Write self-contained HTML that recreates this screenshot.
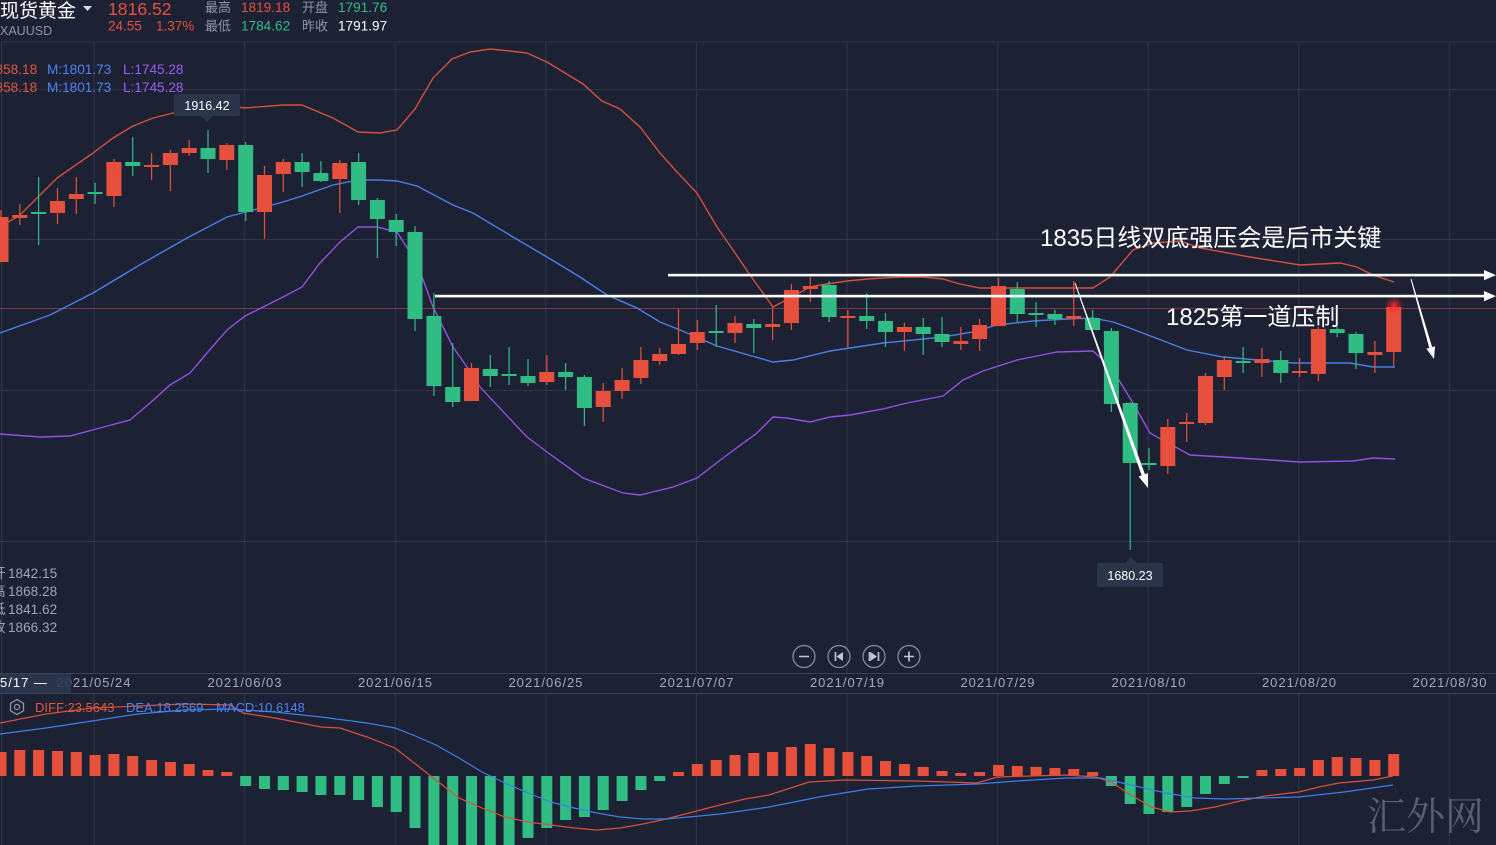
<!DOCTYPE html>
<html><head><meta charset="utf-8"><style>
html,body{margin:0;padding:0;background:#1c2134;}
body{width:1496px;height:845px;overflow:hidden;font-family:"Liberation Sans","Noto Sans CJK SC",sans-serif;}
svg{display:block}
</style></head><body>
<svg width="1496" height="845" viewBox="0 0 1496 845" xmlns="http://www.w3.org/2000/svg" font-family="Liberation Sans, Noto Sans CJK SC, sans-serif">
<defs>
<clipPath id="mc"><rect x="0" y="42" width="1496" height="631"/></clipPath>
<clipPath id="mp"><rect x="0" y="694" width="1496" height="151"/></clipPath>
<filter id="glow" x="-2" y="-2" width="5" height="5"><feGaussianBlur stdDeviation="3"/></filter>
</defs>
<rect width="1496" height="845" fill="#1c2134"/>
<!-- grid -->
<g stroke="#2f364a" stroke-width="1">
<line x1="0" y1="42" x2="1496" y2="42"/>
<line x1="0" y1="89.5" x2="1496" y2="89.5"/>
<line x1="0" y1="239.5" x2="1496" y2="239.5"/>
<line x1="0" y1="390.5" x2="1496" y2="390.5"/>
<line x1="0" y1="541.5" x2="1496" y2="541.5"/>
<path d="M94 42V673M244.6 42V673M395.2 42V673M545.8 42V673M696.4 42V673M847 42V673M997.6 42V673M1148.2 42V673M1298.8 42V673M1449.4 42V673"/>
<path d="M94 694V845M244.6 694V845M395.2 694V845M545.8 694V845M696.4 694V845M847 694V845M997.6 694V845M1148.2 694V845M1298.8 694V845M1449.4 694V845"/>
<line x1="1.5" y1="42" x2="1.5" y2="845"/>
</g>
<g stroke="#3a4258" stroke-width="1">
<line x1="0" y1="673.5" x2="1496" y2="673.5"/>
<line x1="0" y1="693.5" x2="1496" y2="693.5"/>
</g>
<!-- current price line -->
<line x1="0" y1="308.5" x2="1496" y2="308.5" stroke="#7d3a44" stroke-width="1"/>

<g clip-path="url(#mc)">
<!-- bollinger -->
<polyline fill="none" stroke="#d5503a" stroke-width="1.4" points="0,227 20,215 57,178 93,153 113,138 133,126 153,118 177,112 207,103 245,108 283,105 302,105 333,118 358,132 380,133 397,130 415,109 433,78 452,59 470,52 490,49 510,51 527,53 547,62 565,73 583,84 602,101 620,109 640,127 660,153 677,172 697,193 717,227 733,250 750,275 773,307 790,298 810,287 820,285 847,281 867,279 900,277 923,277 943,279 960,284 980,288 1013,288 1047,288 1093,288 1110,277 1133,250 1153,243 1180,241 1200,248 1250,257 1300,265 1340,263 1357,267 1373,275 1394,282"/>
<polyline fill="none" stroke="#4a7fe6" stroke-width="1.4" points="0,333 50,315 93,293 143,263 187,238 227,217 246,212 283,202 302,196 333,185 358,180 380,180 397,181 417,186 453,205 473,213 513,237 547,257 580,277 607,295 637,308 660,322 680,330 717,346 773,362 793,360 830,351 883,343 943,337 973,332 997,325 1033,321 1067,319 1093,318 1113,322 1127,327 1140,332 1187,350 1223,357 1293,363 1350,363 1373,367 1395,367"/>
<polyline fill="none" stroke="#9350e2" stroke-width="1.4" points="0,434 40,437 70,436 100,428 130,420 150,403 170,385 190,373 207,353 227,330 245,316 283,297 302,287 320,263 340,242 358,227 377,227 397,232 417,263 433,307 453,347 467,367 480,387 527,437 547,452 583,478 623,493 640,495 673,487 697,478 723,458 757,433 773,417 787,418 810,422 830,417 850,415 883,409 907,403 943,396 963,380 983,371 1017,360 1057,352 1093,351 1103,360 1117,377 1133,403 1150,433 1190,455 1240,458 1300,462 1353,461 1373,458 1395,459"/>

<!-- wicks -->
<path fill="none" stroke="#e8503e" stroke-width="1.2" d="M1 210V262M19.8 204V225M57.5 188V224M76.3 177V214M113.9 159V207M151.6 153V180M170.4 150V191M189.2 140V156M226.8 143V170M264.5 166V239M283.3 159V192M339.8 160V213M471.5 363V401M546.8 355V385M603.2 383V422M622.1 368V399M640.9 347V384M659.7 348V365M678.5 309V355M697.3 320V350M735 316V343M772.6 307V340M791.4 284V330M810.3 277V302M847.9 310V347M904.4 323V351M960.8 327V350M979.6 319V351M998.5 278V326M1073.7 281V326M1167.8 419V474M1186.7 413V442M1205.5 373V425M1224.3 356V390M1261.9 348V377M1299.6 358V377M1318.4 327V381M1374.9 341V373M1393.7 303V366"/>
<path fill="none" stroke="#2fbd84" stroke-width="1.2" d="M38.6 177V245M95.1 183V204M132.7 137V176M208 130V173M245.7 142V221M302.1 153V187M320.9 161V182M358.6 153V205M377.4 198V258M396.2 214V246M415 226V331M433.9 293V396M452.7 343V407M490.3 355V387M509.1 347V385M528 359V386M565.6 363V390M584.4 375V426M716.2 305V347M753.8 319V353M829.1 281V322M866.7 293V329M885.5 313V347M923.2 318V355M942 317V347M1017.3 282V322M1036.1 302V327M1054.9 310V325M1092.6 310V330M1111.4 328V412M1130.2 402V550M1149 448V470M1243.1 347V373M1280.8 351V383M1337.2 327V337M1356 332V369"/>
<!-- red bodies -->
<g fill="#e8503e">
<rect x="-6.5" y="217" width="15" height="45"/>
<rect x="12.3" y="215" width="15" height="3"/>
<rect x="50" y="201" width="15" height="12"/>
<rect x="68.8" y="194" width="15" height="5"/>
<rect x="106.4" y="162" width="15" height="34"/>
<rect x="144.1" y="165" width="15" height="2"/>
<rect x="162.9" y="153" width="15" height="12"/>
<rect x="181.7" y="148" width="15" height="5"/>
<rect x="219.3" y="145" width="15" height="15"/>
<rect x="257" y="175" width="15" height="37"/>
<rect x="275.8" y="162" width="15" height="12"/>
<rect x="332.3" y="163" width="15" height="16"/>
<rect x="464" y="368" width="15" height="33"/>
<rect x="539.3" y="372" width="15" height="10"/>
<rect x="595.7" y="391" width="15" height="16"/>
<rect x="614.6" y="380" width="15" height="11"/>
<rect x="633.4" y="360" width="15" height="18"/>
<rect x="652.2" y="354" width="15" height="7"/>
<rect x="671" y="344" width="15" height="10"/>
<rect x="689.8" y="332" width="15" height="11"/>
<rect x="727.5" y="323" width="15" height="10"/>
<rect x="765.1" y="324" width="15" height="3"/>
<rect x="783.9" y="290" width="15" height="33"/>
<rect x="802.8" y="286" width="15" height="3"/>
<rect x="840.4" y="316" width="15" height="2"/>
<rect x="896.9" y="327" width="15" height="5"/>
<rect x="953.3" y="341" width="15" height="3"/>
<rect x="972.1" y="325" width="15" height="14"/>
<rect x="991" y="286" width="15" height="40"/>
<rect x="1066.2" y="316" width="15" height="3"/>
<rect x="1160.3" y="427" width="15" height="39"/>
<rect x="1179.2" y="422" width="15" height="2"/>
<rect x="1198" y="376" width="15" height="47"/>
<rect x="1216.8" y="360" width="15" height="17"/>
<rect x="1254.4" y="359" width="15" height="4"/>
<rect x="1292.1" y="371" width="15" height="2"/>
<rect x="1310.9" y="329" width="15" height="45"/>
<rect x="1367.4" y="352" width="15" height="3"/>
<rect x="1386.2" y="307" width="15" height="45"/>
</g>
<circle cx="1394" cy="306" r="6" fill="#ff2a2a" opacity="0.8" filter="url(#glow)"/>
<!-- green bodies -->
<g fill="#2fbd84">
<rect x="31.1" y="212" width="15" height="2"/>
<rect x="87.6" y="192" width="15" height="2"/>
<rect x="125.2" y="162" width="15" height="4"/>
<rect x="200.5" y="148" width="15" height="11"/>
<rect x="238.2" y="145" width="15" height="67"/>
<rect x="294.6" y="162" width="15" height="10"/>
<rect x="313.4" y="173" width="15" height="8"/>
<rect x="351.1" y="162" width="15" height="38"/>
<rect x="369.9" y="200" width="15" height="19"/>
<rect x="388.7" y="220" width="15" height="12"/>
<rect x="407.5" y="232" width="15" height="87"/>
<rect x="426.4" y="316" width="15" height="70"/>
<rect x="445.2" y="387" width="15" height="15"/>
<rect x="482.8" y="369" width="15" height="7"/>
<rect x="501.6" y="374" width="15" height="2"/>
<rect x="520.5" y="376" width="15" height="7"/>
<rect x="558.1" y="372" width="15" height="5"/>
<rect x="576.9" y="377" width="15" height="31"/>
<rect x="708.7" y="331" width="15" height="2"/>
<rect x="746.3" y="324" width="15" height="4"/>
<rect x="821.6" y="285" width="15" height="32"/>
<rect x="859.2" y="316" width="15" height="5"/>
<rect x="878" y="321" width="15" height="11"/>
<rect x="915.7" y="327" width="15" height="7"/>
<rect x="934.5" y="334" width="15" height="8"/>
<rect x="1009.8" y="289" width="15" height="25"/>
<rect x="1028.6" y="313" width="15" height="2"/>
<rect x="1047.4" y="314" width="15" height="5"/>
<rect x="1085.1" y="318" width="15" height="12"/>
<rect x="1103.9" y="331" width="15" height="73"/>
<rect x="1122.7" y="403" width="15" height="60"/>
<rect x="1141.5" y="463" width="15" height="2"/>
<rect x="1235.6" y="361" width="15" height="2"/>
<rect x="1273.3" y="360" width="15" height="13"/>
<rect x="1329.7" y="329" width="15" height="4"/>
<rect x="1348.5" y="334" width="15" height="19"/>
</g>

<!-- annotations -->
<g fill="#ffffff">
<rect x="668" y="273.8" width="818" height="2.6"/>
<polygon points="1484,270 1496,275.1 1484,280.2"/>
<rect x="435" y="294.8" width="1051" height="2.6"/>
<polygon points="1484,291 1496,296.1 1484,301.2"/>
<polygon points="1074.53,283.17 1075.47,282.83 1144.95,474.21 1141.65,475.39"/>
<polygon points="1138.6,476.5 1148,473.1 1148,488"/>
<polygon points="1410.52,279.14 1411.48,278.86 1432.14,347.1 1429.26,347.9"/>
<polygon points="1426.4,348.7 1435,346.3 1434,359"/>
</g>
<text x="1040" y="246" fill="#ffffff" font-size="24">1835日线双底强压会是后市关键</text>
<text x="1166" y="325" fill="#ffffff" font-size="24">1825第一道压制</text>

<!-- price tags -->
<rect x="174" y="94" width="66" height="22" rx="2" fill="#2b3549"/>
<polygon points="201,116 213,116 207,122" fill="#2b3549"/>
<text x="207" y="110" fill="#ffffff" font-size="12.5" text-anchor="middle">1916.42</text>
<rect x="1097" y="563" width="66" height="24" rx="2" fill="#2b3549"/>
<polygon points="1125,563 1137,563 1131,557" fill="#2b3549"/>
<text x="1130" y="580" fill="#ffffff" font-size="12.5" text-anchor="middle">1680.23</text>
</g>

<!-- header -->
<text x="0" y="17" fill="#ffffff" font-size="19">现货黄金</text>
<polygon points="83,6 92,6 87.5,11" fill="#d8dce4"/>
<text x="0" y="35" fill="#8e96a6" font-size="12.5">XAUUSD</text>
<text x="108" y="15" fill="#e8503e" font-size="17.6">1816.52</text>
<text x="108" y="30.5" fill="#e8503e" font-size="13.5">24.55</text>
<text x="156" y="30.5" fill="#e8503e" font-size="13.5">1.37%</text>
<g font-size="13" fill="#8e96a6">
<text x="205" y="12">最高</text><text x="302" y="12">开盘</text>
<text x="205" y="30.5">最低</text><text x="302" y="30.5">昨收</text>
</g>
<g font-size="13.6">
<text x="241" y="12" fill="#e8503e">1819.18</text>
<text x="338" y="12" fill="#2fbd84">1791.76</text>
<text x="241" y="30.5" fill="#2fbd84">1784.62</text>
<text x="338" y="30.5" fill="#ffffff">1791.97</text>
</g>
<!-- band labels -->
<g font-size="13.6">
<text x="-12" y="74" fill="#e0553f">1858.18</text>
<text x="47" y="74" fill="#4d82f0">M:1801.73</text>
<text x="123" y="74" fill="#9d5cf0">L:1745.28</text>
<text x="-12" y="92" fill="#e0553f">1858.18</text>
<text x="47" y="92" fill="#4d82f0">M:1801.73</text>
<text x="123" y="92" fill="#9d5cf0">L:1745.28</text>
</g>
<!-- left OHLC -->
<g font-size="13.6" fill="#9ea6b5">
<text x="-8" y="578">开</text><text x="8" y="578">1842.15</text>
<text x="-8" y="596">高</text><text x="8" y="596">1868.28</text>
<text x="-8" y="614">低</text><text x="8" y="614">1841.62</text>
<text x="-8" y="632">收</text><text x="8" y="632">1866.32</text>
</g>

<!-- nav buttons -->
<g fill="none" stroke="#8a93a5" stroke-width="1.2">
<circle cx="804" cy="656.5" r="11"/>
<circle cx="839" cy="656.5" r="11"/>
<circle cx="874" cy="656.5" r="11"/>
<circle cx="909" cy="656.5" r="11"/>
<path d="M799 656.5H809M904 656.5H914M909 651.5V661.5M835.5 652V661M869.5 652V661M878.5 652V661" stroke="#c2c8d4" stroke-width="1.6"/>
</g>
<polygon points="843,652 843,661 836.5,656.5" fill="#c2c8d4"/>
<polygon points="870.5,652 870.5,661 877,656.5" fill="#c2c8d4"/>

<!-- date axis -->
<g font-size="13" fill="#a3abba" text-anchor="middle" letter-spacing="1">
<text x="94" y="687">2021/05/24</text>
<text x="245" y="687">2021/06/03</text>
<text x="395.5" y="687">2021/06/15</text>
<text x="546" y="687">2021/06/25</text>
<text x="697" y="687">2021/07/07</text>
<text x="847.5" y="687">2021/07/19</text>
<text x="998" y="687">2021/07/29</text>
<text x="1149" y="687">2021/08/10</text>
<text x="1299.5" y="687">2021/08/20</text>
<text x="1450" y="687">2021/08/30</text>
</g>
<rect x="0" y="674" width="71" height="19" fill="#2c384e" opacity="0.88"/>
<text x="0" y="687" fill="#ffffff" font-size="13" letter-spacing="1">5/17 —</text>

<!-- MACD -->
<g clip-path="url(#mp)">
<g fill="#e8503e">
<rect x="-4.5" y="752" width="11" height="24"/><rect x="14.3" y="750" width="11" height="26"/><rect x="33.1" y="750" width="11" height="26"/><rect x="52" y="751" width="11" height="25"/><rect x="70.8" y="752" width="11" height="24"/><rect x="89.6" y="755" width="11" height="21"/><rect x="108.4" y="754" width="11" height="22"/><rect x="127.2" y="756" width="11" height="20"/><rect x="146.1" y="760" width="11" height="16"/><rect x="164.9" y="762" width="11" height="14"/><rect x="183.7" y="764" width="11" height="12"/><rect x="202.5" y="770" width="11" height="6"/><rect x="221.3" y="772" width="11" height="4"/>
<rect x="673" y="772" width="11" height="4"/><rect x="691.8" y="764" width="11" height="12"/><rect x="710.7" y="760" width="11" height="16"/><rect x="729.5" y="755" width="11" height="21"/><rect x="748.3" y="753" width="11" height="23"/><rect x="767.1" y="752" width="11" height="24"/><rect x="785.9" y="747" width="11" height="29"/><rect x="804.8" y="744" width="11" height="32"/><rect x="823.6" y="748" width="11" height="28"/><rect x="842.4" y="752" width="11" height="24"/><rect x="861.2" y="756" width="11" height="20"/><rect x="880" y="761" width="11" height="15"/><rect x="898.9" y="764" width="11" height="12"/><rect x="917.7" y="767" width="11" height="9"/><rect x="936.5" y="771" width="11" height="5"/><rect x="955.3" y="773" width="11" height="3"/><rect x="974.1" y="772" width="11" height="4"/><rect x="993" y="765" width="11" height="11"/><rect x="1011.8" y="766" width="11" height="10"/><rect x="1030.6" y="767" width="11" height="9"/><rect x="1049.4" y="768" width="11" height="8"/><rect x="1068.2" y="769" width="11" height="7"/><rect x="1087.1" y="772" width="11" height="4"/>
<rect x="1256.4" y="770" width="11" height="6"/><rect x="1275.3" y="769" width="11" height="7"/><rect x="1294.1" y="768" width="11" height="8"/><rect x="1312.9" y="760" width="11" height="16"/><rect x="1331.7" y="757" width="11" height="19"/><rect x="1350.5" y="758" width="11" height="18"/><rect x="1369.4" y="760" width="11" height="16"/><rect x="1388.2" y="754" width="11" height="22"/>
</g>
<g fill="#2fbd84">
<rect x="240.2" y="776" width="11" height="10"/><rect x="259" y="776" width="11" height="13"/><rect x="277.8" y="776" width="11" height="14"/><rect x="296.6" y="776" width="11" height="16"/><rect x="315.4" y="776" width="11" height="19"/><rect x="334.3" y="776" width="11" height="19"/><rect x="353.1" y="776" width="11" height="24"/><rect x="371.9" y="776" width="11" height="31"/><rect x="390.7" y="776" width="11" height="36"/><rect x="409.5" y="776" width="11" height="52"/><rect x="428.4" y="776" width="11" height="70"/><rect x="447.2" y="776" width="11" height="70"/><rect x="466" y="776" width="11" height="70"/><rect x="484.8" y="776" width="11" height="70"/><rect x="503.6" y="776" width="11" height="70"/><rect x="522.5" y="776" width="11" height="62"/><rect x="541.3" y="776" width="11" height="52"/><rect x="560.1" y="776" width="11" height="44"/><rect x="578.9" y="776" width="11" height="41"/><rect x="597.7" y="776" width="11" height="34"/><rect x="616.6" y="776" width="11" height="25"/><rect x="635.4" y="776" width="11" height="14"/><rect x="654.2" y="776" width="11" height="5"/>
<rect x="1105.9" y="776" width="11" height="10"/><rect x="1124.7" y="776" width="11" height="28"/><rect x="1143.5" y="776" width="11" height="38"/><rect x="1162.3" y="776" width="11" height="36"/><rect x="1181.2" y="776" width="11" height="31"/><rect x="1200" y="776" width="11" height="18"/><rect x="1218.8" y="776" width="11" height="8"/><rect x="1237.6" y="776" width="11" height="2"/>
</g>
<polyline fill="none" stroke="#d9503a" stroke-width="1.2" points="0,723 46,714 92,708 138,706 184,704 230,705 243,713 275,718 321,727 340,728 367,737 395,748 413,762 432,777 459,798 482,808 505,817 528,822 551,825 574,828 597,830 620,828 643,824 666,819 689,813 720,805 745,799 769,795 809,782 844,780 918,781 977,783 997,777 1066,775 1096,777 1111,782 1131,795 1151,807 1170,812 1190,811 1215,807 1240,801 1265,796 1299,792 1319,787 1339,783 1373,780 1393,776"/>
<polyline fill="none" stroke="#3f7fe8" stroke-width="1.2" points="0,734 46,728 92,721 138,714 184,710 230,709 275,712 321,717 367,723 395,728 413,735 436,745 459,758 482,772 505,783 528,793 551,802 574,808 597,813 620,817 643,819 666,819 689,817 720,814 769,807 819,797 868,789 918,786 977,784 1017,781 1066,778 1101,778 1131,785 1166,793 1195,798 1225,799 1299,797 1344,792 1393,785"/>
</g>
<!-- MACD legend -->
<g fill="none" stroke="#8a93a5" stroke-width="1.3">
<polygon points="17,699.5 23.5,703.2 23.5,710.8 17,714.5 10.5,710.8 10.5,703.2"/>
<circle cx="17" cy="707" r="2.6"/>
</g>
<text x="35" y="712" fill="#e0553f" font-size="13">DIFF:23.5643</text>
<text x="126" y="712" fill="#4d82f0" font-size="13">DEA:18.2569</text>
<text x="216" y="712" fill="#4d82f0" font-size="13">MACD:10.6148</text>

<!-- watermark -->
<text x="1367" y="830" fill="#5a5f6c" font-size="39" font-family="Noto Serif CJK SC, serif">汇外网</text>
</svg>
</body></html>
